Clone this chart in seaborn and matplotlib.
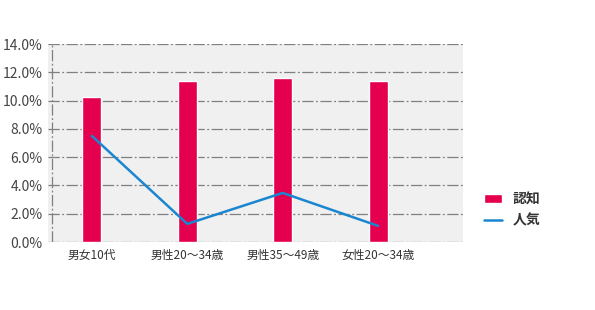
import matplotlib
matplotlib.use("Agg")
import matplotlib.pyplot as plt
import seaborn as sns
import pandas as pd
import numpy as np
from matplotlib.ticker import FuncFormatter

categories = ["男女10代", "男性20～34歳", "男性35～49歳", "女性20～34歳"]
awareness = [10.27, 11.41, 11.6, 11.41]
popularity = [7.5, 1.28, 3.47, 1.14]
yticks = [0, 2, 4, 6, 8, 10, 12, 14]

sns.set_theme(style="white")
plt.rcParams['font.family'] = ['Noto Sans CJK JP', 'DejaVu Sans']

df = pd.DataFrame({"cat": categories, "認知": awareness, "人気": popularity})

fig = plt.figure(figsize=(5.95, 3.10), dpi=100)
ax = fig.add_axes([48/595, (310-242)/310, (463-48)/595, (242-44)/310])
ax.set_facecolor("#f0f0f0")

bar_color = "#e4004f"
line_color = "#1a86d0"
gap = (0, (9, 2, 1.5, 2))

for y in yticks:
    ax.axhline(y, color="#808080", lw=0.9, ls=gap, zorder=1)

sns.barplot(data=df, x="cat", y="認知", color=bar_color, width=0.2,
            saturation=1, ax=ax, zorder=2, label="認知")
sns.lineplot(data=df, x="cat", y="人気", color=line_color, lw=1.8,
             ax=ax, zorder=3, label="人気", sort=False)

ax.set_xlim(-0.46, 3.89)
ax.set_ylim(0, 14)
ax.set_yticks(yticks)
ax.yaxis.set_major_formatter(FuncFormatter(lambda v, p: f"{v:.1f}%"))
ax.set_xlabel("")
ax.set_ylabel("")
for s in ax.spines.values():
    s.set_visible(False)
ax.axvline(-0.42, color="#808080", lw=0.9, ls=gap, zorder=1)
ax.tick_params(axis="y", labelsize=10, colors="#444444", length=0, pad=4)
ax.tick_params(axis="x", labelsize=8.5, colors="#333333", length=0, pad=5)

handles, labels = ax.get_legend_handles_labels()
order = [labels.index("認知"), labels.index("人気")]
ax.legend([handles[i] for i in order], [labels[i] for i in order],
          loc="upper left", bbox_to_anchor=(478/595, (310-187)/310), bbox_transform=fig.transFigure,
          frameon=False, fontsize=10, handlelength=1.3, handleheight=0.6,
          labelspacing=0.5, borderaxespad=0)
for t in ax.get_legend().get_texts():
    t.set_color("#333333")
    t.set_fontweight("bold")

fig.savefig("out.png", dpi=100)
